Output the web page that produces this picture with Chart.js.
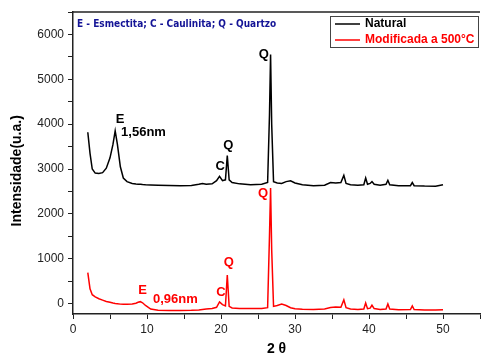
<!DOCTYPE html>
<html>
<head>
<meta charset="utf-8">
<script src="https://cdn.jsdelivr.net/npm/chart.js@4/dist/chart.umd.min.js"></script>
<style>
  body { margin: 0; background: #fff; }
  #wrap { width: 483px; height: 356px; position: relative; }
</style>
</head>
<body>
<div id="wrap"><canvas id="c"></canvas></div>
<script>
// 2 theta positions (degrees)
const angles = [2.0, 2.3, 2.6, 3.0, 3.5, 4.0, 4.5, 5.0, 5.4, 5.7, 6.0, 6.4, 6.8, 7.3, 8.0, 8.5, 8.8, 9.1, 9.4, 9.8,
  10.5, 11.5, 13, 14.5, 16, 17, 17.5, 18, 18.8, 19.4, 19.8, 20.2, 20.6, 20.85, 21.1, 21.5, 22.5, 24, 25.5, 26.3,
  26.55, 26.7, 26.85, 27.1, 27.6, 28.2, 28.8, 29.4, 30, 31, 32.5, 34, 34.8, 35.5, 36.2, 36.6, 36.9, 37.5, 38.5, 39.3,
  39.55, 39.8, 40.15, 40.4, 40.7, 41.5, 42.3, 42.55, 42.8, 44, 45.6, 45.85, 46.1, 47.5, 49, 50];

const natural = [3820, 3350, 3000, 2910, 2900, 2920, 3020, 3250, 3550, 3850, 3550, 3050, 2800, 2720, 2680, 2665, 2660, 2660, 2655, 2650,
  2645, 2640, 2635, 2630, 2635, 2660, 2680, 2660, 2670, 2740, 2840, 2740, 2760, 3300, 2760, 2700, 2670, 2650, 2660, 2700,
  4200, 5550, 4000, 2720, 2690, 2680, 2720, 2740, 2690, 2650, 2630, 2640, 2700, 2690, 2700, 2860, 2680, 2650, 2640, 2650,
  2800, 2660, 2680, 2720, 2660, 2640, 2660, 2750, 2650, 2630, 2630, 2700, 2630, 2620, 2615, 2650];

const modificada = [690, 330, 200, 150, 110, 80, 50, 30, 15, 5, 0, -10, -15, -15, -5, 10, 30, 45, 20, -40,
  -120, -145, -150, -150, -148, -140, -130, -120, -105, -80, 40, -20, -50, 640, -60, -95, -105, -110, -110, -90,
  1500, 2580, 1200, -60, -40, -10, -40, -90, -115, -125, -130, -120, -85, -75, -80, 85, -90, -120, -130, -120,
  15, -110, -100, -35, -110, -130, -120, -5, -120, -135, -130, -50, -130, -140, -140, -135];

const seriesNames = ['Natural', 'Modificada a 500°C'];
const seriesColors = ['#000000', '#ff0000'];

// tick positions (labels only on the major ones)
const xTicks = [0, 5, 10, 15, 20, 25, 30, 35, 40, 45, 50, 55];
const xLabels = [0, 10, 20, 30, 40, 50];
const yTicks = [0, 500, 1000, 1500, 2000, 2500, 3000, 3500, 4000, 4500, 5000, 5500, 6000, 6500];
const yLabels = [0, 1000, 2000, 3000, 4000, 5000, 6000];

// peak labels: [2theta, intensity, text, color, align]
const peakLabels = [
  [6.35, 4100, 'E', '#000', 'center'],
  [6.5, 3820, '1,56nm', '#000', 'left'],
  [19.9, 3050, 'C', '#000', 'center'],
  [21.0, 3530, 'Q', '#000', 'center'],
  [25.8, 5560, 'Q', '#000', 'center'],
  [25.7, 2450, 'Q', '#ff0000', 'center'],
  [21.05, 910, 'Q', '#ff0000', 'center'],
  [20.0, 240, 'C', '#ff0000', 'center'],
  [9.4, 285, 'E', '#ff0000', 'center'],
  [10.8, 105, '0,96nm', '#ff0000', 'left']
];

const note = 'E - Esmectita; C - Caulinita; Q - Quartzo';

const extras = {
  id: 'extras',
  afterDatasetsDraw(chart) {
    const { ctx, chartArea, scales } = chart;
    ctx.save();
    // top frame line
    ctx.strokeStyle = '#222';
    ctx.lineWidth = 1.5;
    ctx.beginPath();
    ctx.moveTo(chartArea.left, chartArea.top);
    ctx.lineTo(chartArea.right, chartArea.top);
    ctx.stroke();

    // peak labels
    ctx.font = 'bold 13px "Liberation Sans", Arial, sans-serif';
    ctx.textBaseline = 'middle';
    peakLabels.forEach(([a, v, t, col, al]) => {
      ctx.fillStyle = col;
      ctx.textAlign = al;
      ctx.fillText(t, scales.x.getPixelForValue(a), scales.y.getPixelForValue(v));
    });

    // note
    ctx.font = 'bold 10px "DejaVu Sans Condensed", "Liberation Sans", sans-serif';
    ctx.fillStyle = '#141496';
    ctx.textAlign = 'left';
    ctx.fillText(note, chartArea.left + 4, 24);

    // legend box
    ctx.fillStyle = '#fff';
    ctx.fillRect(330, 16, 148, 31);
    ctx.strokeStyle = '#444';
    ctx.lineWidth = 1;
    ctx.strokeRect(330.5, 16.5, 148, 31);
    ctx.font = 'bold 12px "Liberation Sans", Arial, sans-serif';
    chart.data.datasets.forEach((ds, i) => {
      const y = 24 + i * 16;
      ctx.strokeStyle = ds.borderColor;
      ctx.lineWidth = 1.5;
      ctx.beginPath();
      ctx.moveTo(335, y);
      ctx.lineTo(360, y);
      ctx.stroke();
      ctx.fillStyle = ds.borderColor;
      ctx.fillText(ds.label, 365, y);
    });
    ctx.restore();
  }
};

const tickFont = { family: '"Liberation Sans", Arial, sans-serif', size: 12 };

new Chart(document.getElementById('c'), {
  type: 'line',
  data: {
    datasets: [natural, modificada].map((vals, i) => ({
      label: seriesNames[i],
      data: angles.map((a, j) => ({ x: a, y: vals[j] })),
      borderColor: seriesColors[i],
      backgroundColor: seriesColors[i],
      borderWidth: 1.5,
      pointRadius: 0,
      tension: 0
    }))
  },
  options: {
    responsive: true,
    maintainAspectRatio: false,
    animation: false,
    layout: { padding: { top: 12, left: 0, right: 0, bottom: 0 } },
    plugins: {
      legend: { display: false },
      tooltip: { enabled: false }
    },
    scales: {
      x: {
        type: 'linear',
        min: 0,
        max: 55,
        afterFit: s => { s.height = 42; },
        afterBuildTicks: s => { s.ticks = xTicks.map(v => ({ value: v })); },
        ticks: {
          autoSkip: false,
          maxRotation: 0,
          color: '#222',
          font: tickFont,
          padding: 3,
          callback: v => (xLabels.includes(v) ? v : '')
        },
        grid: { drawOnChartArea: false, drawTicks: true, tickLength: 5, tickColor: '#222', tickWidth: 1 },
        border: { display: true, color: '#222', width: 1.5 },
        title: {
          display: true,
          text: '2 θ',
          color: '#000',
          font: { family: '"Liberation Sans", Arial, sans-serif', size: 14, weight: 'bold', lineHeight: 1 },
          padding: { top: 0, bottom: 0 }
        }
      },
      y: {
        min: -230,
        max: 6500,
        afterFit: s => { s.width = 73; },
        afterBuildTicks: s => { s.ticks = yTicks.map(v => ({ value: v })); },
        ticks: {
          autoSkip: false,
          color: '#222',
          font: tickFont,
          padding: 4,
          callback: v => (yLabels.includes(v) ? v : '')
        },
        grid: { drawOnChartArea: false, drawTicks: true, tickLength: 5, tickColor: '#222', tickWidth: 1 },
        border: { display: true, color: '#222', width: 1.5 },
        title: {
          display: true,
          text: 'Intensidade(u.a.)    ',
          color: '#000',
          font: { family: '"Liberation Sans", Arial, sans-serif', size: 14, weight: 'bold', lineHeight: 1.2 },
          padding: { top: 9, bottom: 0 }
        }
      }
    }
  },
  plugins: [extras]
});
</script>
</body>
</html>
